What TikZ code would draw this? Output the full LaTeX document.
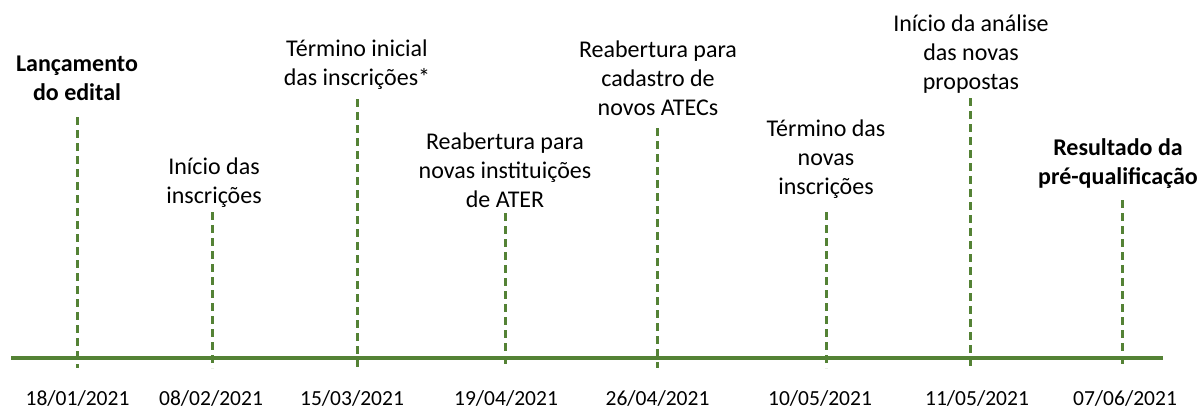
\documentclass[tikz,border=0pt]{standalone}
\usepackage{fontspec}
\setmainfont{Carlito}
\usepackage{tikz}
\usetikzlibrary{calc}
\usetikzlibrary{positioning}

\definecolor{timegreen}{RGB}{84,130,53}

\tikzset{
  axisline/.style={draw=timegreen, line width=4pt},
  tickline/.style={draw=timegreen, line width=3pt, dash pattern=on 8pt off 5pt},
  eventtxt/.style={inner sep=0.75pt, align=center, font=\fontsize{24}{28.8}\selectfont},
  datetxt/.style={inner sep=0.75pt, font=\fontsize{21.5}{25}\selectfont}
}

\begin{document}
\begin{tikzpicture}[x=1pt,y=1pt,yscale=-1,xscale=1]
            %set diagram size as the reference
            \path[use as bounding box] (0,0) rectangle (1203,410);

            %Straight Lines [timeline]
            \coordinate (start) at (11,358);
            \coordinate (end) at (1163,358);
            \draw[axisline] (start) -- (end);

            %Dashed Lines [events]
            \coordinate (top1) at (77,117);   \coordinate (bot1) at (77,368);
            \coordinate (top2) at (212,212);  \coordinate (bot2) at (212,368);
            \coordinate (top3) at (357,99);   \coordinate (bot3) at (357,368);
            \coordinate (top4) at (505,213);  \coordinate (bot4) at (505,368);
            \coordinate (top5) at (657,128);  \coordinate (bot5) at (657,368);
            \coordinate (top6) at (826,212);  \coordinate (bot6) at (826,368);
            \coordinate (top7) at (970,98);   \coordinate (bot7) at (970,368);
            \coordinate (top8) at (1122,200); \coordinate (bot8) at (1122,368);
            \draw[tickline] (top1) -- (bot1);
            \draw[tickline] (top2) -- (bot2);
            \draw[tickline] (top3) -- (bot3);
            \draw[tickline] (top4) -- (bot4);
            \draw[tickline] (top5) -- (bot5);
            \draw[tickline] (top6) -- (bot6);
            \draw[tickline] (top7) -- (bot7);
            \draw[tickline] (top8) -- (bot8);

            % Text Node
            \node[eventtxt] (ev1) at (77,78.5) {\textbf{Lançamento}\\\textbf{do edital}};
            % Text Node
            \node[eventtxt] (ev2) at (214,182.5) {Início das\\inscrições};
            % Text Node
            \node[eventtxt] (ev3) at (357,64.5) {Término inicial\\das inscrições*};
            % Text Node
            \node[eventtxt] (ev4) at (505,170) {Reabertura para\\novas instituições\\de ATER};
            % Text Node
            \node[eventtxt] (ev5) at (658,78.5) {Reabertura para\\cadastro de\\novos ATECs};
            % Text Node
            \node[eventtxt] (ev6) at (826,159) {Término das\\novas\\inscrições};
            % Text Node
            \node[eventtxt] (ev7) at (971,54) {Início da análise\\das novas\\propostas};
            % Text Node
            \node[eventtxt] (ev8) at (1118,163.5) {\textbf{Resultado da}\\\textbf{pré-qualificação}};

            % Date Nodes
            \node[datetxt] (dt1) at (77.5,398) {18/01/2021};
            \node[datetxt] (dt2) at (211,398) {08/02/2021};
            \node[datetxt] (dt3) at (352,398) {15/03/2021};
            \node[datetxt] (dt4) at (506,398) {19/04/2021};
            \node[datetxt] (dt5) at (657.5,398) {26/04/2021};
            \node[datetxt] (dt6) at (820,398) {10/05/2021};
            \node[datetxt] (dt7) at (977,398) {11/05/2021};
            \node[datetxt] (dt8) at (1125,398) {07/06/2021};

\end{tikzpicture}
\end{document}
